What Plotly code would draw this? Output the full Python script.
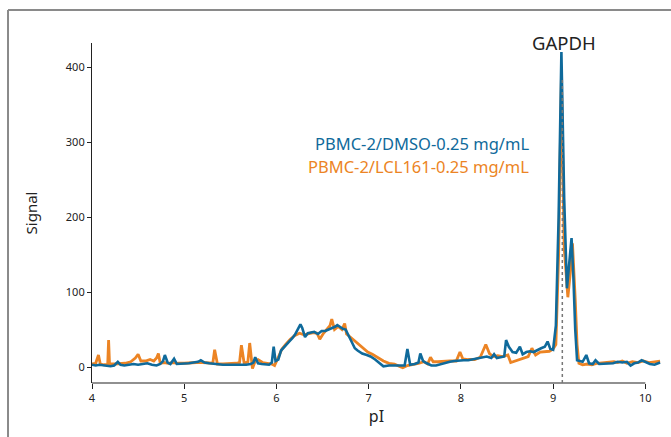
import plotly.graph_objects as go

dmso_x = [4.00,4.04,4.08,4.12,4.16,4.20,4.24,4.28,4.31,4.35,4.40,4.45,4.50,4.55,4.60,4.65,4.70,4.74,4.77,4.79,4.82,4.85,4.89,4.92,4.96,5.00,5.05,5.10,5.15,5.18,5.22,5.27,5.32,5.37,5.42,5.47,5.52,5.57,5.62,5.67,5.72,5.75,5.77,5.80,5.84,5.88,5.92,5.95,5.97,5.99,6.02,6.05,6.09,6.13,6.17,6.20,6.23,6.26,6.28,6.31,6.34,6.37,6.41,6.45,6.49,6.53,6.57,6.61,6.64,6.66,6.69,6.72,6.75,6.78,6.81,6.85,6.88,6.93,6.98,7.02,7.07,7.12,7.16,7.22,7.28,7.34,7.39,7.42,7.45,7.50,7.54,7.56,7.59,7.63,7.68,7.73,7.78,7.83,7.88,7.93,7.98,8.03,8.08,8.13,8.18,8.23,8.28,8.33,8.36,8.39,8.43,8.47,8.49,8.52,8.56,8.60,8.64,8.67,8.71,8.75,8.79,8.83,8.87,8.91,8.94,8.97,9.00,9.03,9.06,9.09,9.12,9.15,9.18,9.20,9.22,9.24,9.26,9.29,9.32,9.36,9.39,9.43,9.46,9.50,9.55,9.60,9.65,9.70,9.75,9.80,9.84,9.88,9.92,9.96,10.00,10.05,10.10,10.13,10.16]
dmso_y = [3,2,3,2,1,1,2,7,3,2,3,4,3,4,5,3,2,4,8,16,6,4,11,4,4,5,5,6,7,9,6,5,4,4,3,3,3,3,2,3,4,6,13,5,4,3,3,6,27,8,10,22,28,33,38,43,50,57,52,40,45,46,47,44,48,48,50,52,54,56,53,51,50,43,36,25,22,18,16,14,10,5,1,2,2,2,2,24,3,4,6,18,8,5,2,2,4,5,7,8,9,9,9,10,12,13,14,12,17,12,13,14,36,27,20,19,27,17,20,21,20,23,25,27,34,24,23,55,200,420,225,105,140,172,120,50,9,8,7,16,5,4,9,4,4,5,5,7,6,7,2,5,6,9,7,4,3,4,6]

lcl_x = [4.00,4.04,4.07,4.09,4.13,4.17,4.18,4.19,4.24,4.30,4.36,4.42,4.47,4.50,4.53,4.58,4.63,4.67,4.70,4.72,4.74,4.78,4.83,4.88,4.93,5.00,5.07,5.13,5.20,5.26,5.31,5.33,5.36,5.42,5.50,5.56,5.60,5.62,5.65,5.69,5.71,5.74,5.77,5.80,5.85,5.90,5.95,5.98,6.02,6.06,6.10,6.15,6.20,6.25,6.30,6.35,6.40,6.44,6.47,6.51,6.55,6.58,6.60,6.63,6.67,6.71,6.74,6.76,6.80,6.85,6.90,6.94,6.99,7.04,7.10,7.16,7.22,7.28,7.33,7.37,7.42,7.48,7.54,7.60,7.64,7.67,7.70,7.75,7.82,7.88,7.95,7.99,8.02,8.08,8.15,8.21,8.27,8.31,8.35,8.40,8.45,8.51,8.54,8.59,8.64,8.69,8.73,8.77,8.81,8.86,8.91,8.96,9.00,9.03,9.06,9.09,9.12,9.16,9.19,9.21,9.24,9.26,9.28,9.32,9.37,9.42,9.48,9.54,9.60,9.66,9.70,9.75,9.80,9.86,9.92,9.98,10.04,10.10,10.16]
lcl_y = [4,5,16,4,3,3,36,4,4,4,5,7,12,17,8,8,10,8,12,18,5,6,5,6,5,5,6,6,6,5,5,23,4,4,4,5,6,29,5,7,32,-2,8,10,6,5,4,2,14,24,30,37,42,45,43,44,46,45,37,45,50,55,64,50,54,50,58,44,40,35,30,26,20,17,12,8,5,4,1,-1,2,3,5,7,4,13,7,7,8,8,8,20,11,10,10,13,30,18,14,15,14,16,6,8,11,12,14,25,16,20,20,21,24,30,150,385,160,93,130,165,90,30,5,3,4,3,5,6,7,7,6,8,5,7,6,8,6,7,8]

x_ticks = [4, 5, 6, 7, 8, 9, 10]
y_ticks = [0, 100, 200, 300, 400]
series_names = ["PBMC-2/DMSO-0.25 mg/mL", "PBMC-2/LCL161-0.25 mg/mL"]
marker_label = "GAPDH"
marker_x = 9.1

BLUE = "#0f6a9b"
ORANGE = "#ec8424"
FONT = "Noto Sans"

fig = go.Figure()
fig.add_trace(go.Scatter(x=lcl_x, y=lcl_y, mode="lines", line=dict(color=ORANGE, width=2.8),
                         name=series_names[1], showlegend=False))
fig.add_trace(go.Scatter(x=dmso_x, y=dmso_y, mode="lines", line=dict(color=BLUE, width=2.6),
                         name=series_names[0], showlegend=False))

XR = [4, 10.17]
YR = [-21.3, 432]

fig.update_layout(
    width=671, height=437,
    margin=dict(l=92, r=10, t=43, b=54),
    paper_bgcolor="white", plot_bgcolor="white",
    font=dict(family=FONT, color="#222"),
    xaxis=dict(range=XR, tickvals=x_ticks, ticks="outside", ticklen=5, tickcolor="#222",
               showline=False, showgrid=False, zeroline=False,
               tickfont=dict(size=11, color="#222"),
               title=dict(text="pI", font=dict(size=16, color="#222"), standoff=2)),
    yaxis=dict(range=YR, tickvals=y_ticks, ticks="outside", ticklen=4, tickcolor="#222",
               showline=True, linecolor="#222", linewidth=1.2, showgrid=False, zeroline=False,
               tickfont=dict(size=11, color="#222"),
               title=dict(text="Signal", font=dict(size=15, color="#222"), standoff=24)),
)

# x axis line spanning first to last tick
fig.add_shape(type="line", xref="x", yref="paper", x0=x_ticks[0], x1=x_ticks[-1], y0=0, y1=0,
              line=dict(color="#222", width=1.2))
# GAPDH dotted marker
fig.add_shape(type="line", xref="x", yref="y", x0=marker_x, x1=marker_x, y0=YR[0], y1=385,
              line=dict(color="#777", width=1.5, dash="dot"))
# outer gray frame (partial, extends past page)
fig.add_shape(type="line", xref="paper", yref="paper", x0=-0.1476, x1=1.3, y0=1.097, y1=1.097,
              line=dict(color="#8a8a8a", width=2))
fig.add_shape(type="line", xref="paper", yref="paper", x0=-0.1476, x1=-0.1476, y0=-0.3, y1=1.097,
              line=dict(color="#8a8a8a", width=2))

fig.add_annotation(x=marker_x, y=1.0, xref="x", yref="paper", text=marker_label, showarrow=False,
                   yanchor="bottom", yshift=-14, xshift=2, font=dict(size=18.5, color="#222", family=FONT))
fig.add_annotation(x=0.772, y=298, xref="paper", yref="y", text=series_names[0], showarrow=False,
                   xanchor="right", font=dict(size=16.5, color=BLUE, family=FONT))
fig.add_annotation(x=0.772, y=268, xref="paper", yref="y", text=series_names[1], showarrow=False,
                   xanchor="right", font=dict(size=16.5, color=ORANGE, family=FONT))

fig.write_html("out.html")
